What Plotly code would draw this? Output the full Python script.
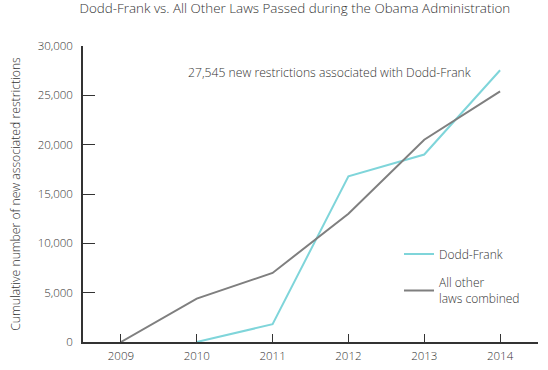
import plotly.graph_objects as go

years_dodd = [2010, 2011, 2012, 2013, 2014]
dodd_frank = [0, 1800, 16800, 19000, 27545]
years_other = [2009, 2010, 2011, 2012, 2013, 2014]
all_other = [0, 4400, 7000, 13000, 20500, 25400]
y_ticks = [0, 5000, 10000, 15000, 20000, 25000, 30000]
y_tick_labels = ["0", "5,000", "10,000", "15,000", "20,000", "25,000", "30,000"]
x_ticks = [2009, 2010, 2011, 2012, 2013, 2014]

FONT = "Open Sans"
TXT = "#333333"
W = 300

fig = go.Figure()
fig.add_trace(go.Scatter(x=years_dodd, y=dodd_frank, mode="lines", name="Dodd-Frank",
                         legendgroup="a", line=dict(color="#7fd5da", width=2)))
fig.add_trace(go.Scatter(x=years_other, y=all_other, mode="lines", name="All other<br>laws combined",
                         legendgroup="b", line=dict(color="#7f7f7f", width=2)))

fig.update_layout(
    width=548, height=370,
    margin=dict(l=83, r=10, t=46, b=28, autoexpand=False),
    paper_bgcolor="white", plot_bgcolor="white",
    font=dict(family=FONT, color=TXT, size=12, weight=W),
    title=dict(text="Dodd-Frank vs. All Other Laws Passed during the Obama Administration",
               x=0.538, xanchor="center", y=1 - 8 / 370, yanchor="middle",
               font=dict(size=13.4, family=FONT, color=TXT, weight=W)),
    showlegend=True,
    legend=dict(x=0.6945, y=0.3465, xanchor="left", yanchor="top", bgcolor="rgba(0,0,0,0)",
                itemwidth=30, traceorder="grouped", tracegroupgap=10,
                font=dict(size=12, color=TXT, weight=W)),
    xaxis=dict(range=[2008.5, 2014.5], tickvals=x_ticks, ticktext=[str(v) for v in x_ticks],
               showgrid=False, zeroline=False, showline=True, linecolor="#333", linewidth=1.5,
               ticks="inside", ticklen=8, tickcolor="#333", tickwidth=1.3,
               ticklabelstandoff=2, automargin=False,
               tickfont=dict(size=11.5, color=TXT, weight=W)),
    yaxis=dict(range=[0, 30000], tickvals=y_ticks, ticktext=y_tick_labels,
               showgrid=False, zeroline=False, showline=True, linecolor="#333", linewidth=1.5,
               ticks="inside", ticklen=12, tickcolor="#333", tickwidth=1.3,
               ticklabelstandoff=6, automargin=False,
               tickfont=dict(size=11.5, color=TXT, weight=W),
               title=dict(text="Cumulative number of new associated restrictions",
                          font=dict(size=12.2, color=TXT, weight=W), standoff=14)),
)
fig.add_annotation(text="27,545 new restrictions associated with Dodd-Frank",
                   xref="paper", yref="paper", x=0.226, y=0.912, xanchor="left", yanchor="middle",
                   showarrow=False, font=dict(size=12.2, color=TXT, family=FONT, weight=W))

fig.write_html("out.html", config={"displayModeBar": False},
               post_script="document.body.style.margin='0px';")
